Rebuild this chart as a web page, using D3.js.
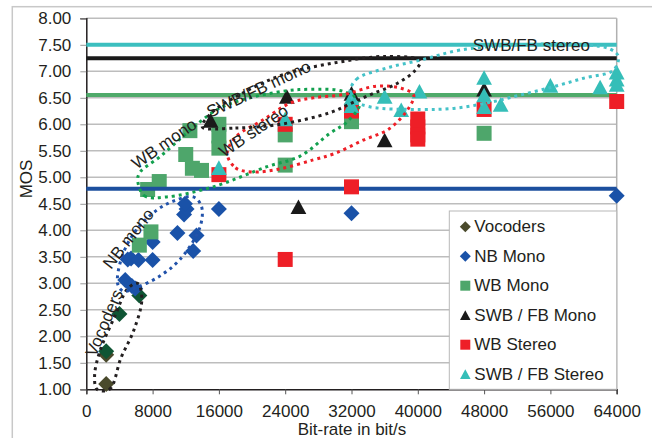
<!DOCTYPE html>
<html>
<head>
<meta charset="utf-8">
<script src="https://cdn.jsdelivr.net/npm/d3@7"></script>
<style>
  body { margin: 0; background: #fff; }
  text { font-family: "Liberation Sans", Arial, sans-serif; fill: #231f20; }
</style>
</head>
<body>
<script>
// data: [bit-rate, MOS]
const vocoders = [[2400, 1.10], [2400, 1.65], [2400, 1.72], [4000, 2.42], [6400, 2.77]];
const nbMono = [[4700, 3.06], [5500, 2.95], [5900, 2.90], [5000, 3.45], [5400, 3.47], [6300, 3.44],
    [8000, 3.44], [8000, 3.78], [11000, 3.95], [11800, 4.30], [12100, 4.40], [11900, 4.50],
    [13300, 3.90], [12900, 3.61], [16000, 4.40], [32000, 4.32], [64000, 4.65]];
const wbMono = [[6400, 3.72], [7800, 3.97], [7400, 4.77], [8800, 4.92], [12000, 5.43], [12800, 5.17],
    [13900, 5.13], [12500, 5.88], [16000, 6.00], [16000, 5.78], [16000, 5.55], [24000, 5.80],
    [24000, 5.23], [32000, 6.05], [48000, 5.83]];
const swbMono = [[15000, 6.07], [24200, 6.52], [25600, 4.44], [32000, 6.58], [36000, 5.70], [48000, 6.66]];
const wbStereo = [[16000, 5.05], [24000, 6.00], [24000, 3.45], [32000, 4.82], [32000, 6.25],
    [40000, 6.10], [40000, 5.95], [40000, 5.80], [40000, 5.72], [48000, 6.28], [64000, 6.43]];
const swbStereo = [[16000, 5.18], [24000, 6.10], [32000, 6.50], [32000, 6.35], [36000, 6.52],
    [38000, 6.27], [40200, 6.62], [48000, 6.88], [48000, 6.55], [48000, 6.33], [50000, 6.37],
    [56000, 6.73], [62000, 6.70], [64000, 6.98], [64000, 6.85], [64000, 6.75]];

// horizontal reference levels
const refLevels = [7.50, 7.245, 6.555, 4.785];

// dotted group outlines
const vocoderLoop = [[1300, 1.0], [2800, 1.0], [4200, 1.6], [5700, 2.1], [6700, 2.7], [6200, 3.0],
    [5000, 2.9], [3500, 2.4], [1600, 1.7], [1000, 1.25]];
const nbLoop = [[3800, 2.98], [4300, 3.5], [6000, 4.0], [8500, 4.38], [10500, 4.55], [12900, 4.63],
    [13900, 4.45], [13700, 4.05], [11300, 3.45], [8700, 3.12], [6000, 2.92], [4500, 2.85]];
const wbMonoLoop = [[6200, 4.95], [7000, 4.65], [9700, 4.63], [15300, 4.82], [21800, 5.2],
    [25800, 5.4], [29400, 5.83], [31500, 6.05], [33000, 6.4], [31000, 6.62], [27000, 6.66],
    [24000, 6.63], [19000, 6.47], [15700, 6.27], [12100, 5.83], [8900, 5.39], [6500, 5.1]];
const wbStereoLoop = [[17000, 5.45], [18000, 5.18], [20000, 5.1], [23400, 5.16], [27400, 5.33],
    [30000, 5.45], [33400, 5.7], [36600, 5.92], [39000, 6.33], [39500, 6.55], [38000, 6.68],
    [35000, 6.72], [31000, 6.56], [27400, 6.5], [24600, 6.4], [21300, 6.08], [18100, 5.77]];
const swbMonoLoop = [[14000, 5.95], [18000, 5.93], [23400, 6.0], [29400, 6.22], [32000, 6.4],
    [34600, 6.58], [37500, 6.77], [39700, 7.02], [40300, 7.2], [36000, 7.28], [30000, 7.16],
    [24000, 6.95], [19000, 6.6], [15000, 6.2]];
const swbStereoLoop = [[31800, 6.6], [32600, 6.85], [36200, 7.06], [40300, 7.21], [45100, 7.4],
    [52300, 7.5], [60000, 7.5], [63200, 7.42], [64200, 7.28], [63600, 7.02], [60000, 6.87],
    [56400, 6.71], [52300, 6.55], [48300, 6.4], [44300, 6.3], [40300, 6.28], [34200, 6.33], [32300, 6.45]];

const groupLabels = ['Vocoders', 'NB mono', 'WB mono', 'SWB/FB mono', 'WB stereo', 'SWB/FB stereo'];
const labelAt = [[2200, 2.25], [5100, 3.84], [9400, 5.63], [20800, 6.66], [20200, 5.87], [53700, 7.48]];
const labelAngle = [-67, -52, -35, -25, -34, 0];

const legendNames = ['Vocoders', 'NB Mono', 'WB Mono', 'SWB / FB Mono', 'WB Stereo', 'SWB / FB Stereo'];
const xTicks = [0, 8000, 16000, 24000, 32000, 40000, 48000, 56000, 64000];

const svgWidth = 652;
const svgHeight = 438;
const margin = { top: 18.3, left: 86.3, right: 35.3, bottom: 48.7 };
const width = svgWidth - margin.left - margin.right;
const height = svgHeight - margin.top - margin.bottom;

const svg = d3.select('body')
    .append('svg')
    .attr('width', svgWidth)
    .attr('height', svgHeight);

// outer chart frame
svg.append('rect')
    .attr('x', 12.3).attr('y', 6.7)
    .attr('width', 700).attr('height', 500)
    .attr('fill', 'none')
    .attr('stroke', '#c8c8c8')
    .attr('stroke-width', 1.5);

const g = svg.append('g')
    .attr('transform', `translate(${margin.left},${margin.top})`);

const x = d3.scaleLinear().domain([0, 64000]).range([0, width]);
const y = d3.scaleLinear().domain([1, 8]).range([height, 0]);

// grid
g.append('g')
    .selectAll('line')
    .data(d3.range(1.5, 8.01, 0.5))
    .enter()
    .append('line')
    .attr('x1', 0).attr('x2', width)
    .attr('y1', d => y(d)).attr('y2', d => y(d))
    .attr('stroke', '#bdbdbd')
    .attr('stroke-width', 1.5);

g.append('line')
    .attr('x1', width).attr('x2', width)
    .attr('y1', 0).attr('y2', height)
    .attr('stroke', '#b0b0b0')
    .attr('stroke-width', 1.5);

// axes
const yAxis = g.append('g')
    .call(d3.axisLeft(y).tickValues(d3.range(1, 8.01, 0.5)).tickFormat(d3.format('.2f')).tickSize(6).tickPadding(9));
const xAxis = g.append('g')
    .attr('transform', `translate(0,${height})`)
    .call(d3.axisBottom(x).tickValues(xTicks).tickFormat(d3.format('d')).tickSize(5).tickPadding(11));

[yAxis, xAxis].forEach(ax => {
    ax.select('.domain').attr('stroke', '#231f20').attr('stroke-width', 1.5);
    ax.selectAll('.tick line').attr('stroke', '#555').attr('stroke-width', 1);
    ax.selectAll('text').style('font-size', '17px').style('font-family', '"Liberation Sans", Arial, sans-serif').attr('fill', '#231f20');
});
yAxis.selectAll('.tick line').attr('stroke', '#999');

svg.append('text')
    .attr('transform', `translate(26,179) rotate(-90)`)
    .attr('text-anchor', 'middle')
    .attr('dominant-baseline', 'central')
    .style('font-size', '17px')
    .text('MOS');

svg.append('text')
    .attr('x', 352)
    .attr('y', 435)
    .attr('text-anchor', 'middle')
    .style('font-size', '17px')
    .text('Bit-rate in bit/s');

// marker shapes
const shapes = {
    diamond: s => `M0,${-s}L${s},0L0,${s}L${-s},0Z`,
    square: s => `M${-s},${-s}H${s}V${s}H${-s}Z`,
    triangle: s => `M0,${-s}L${s * 1.05},${s * 0.95}H${-s * 1.05}Z`
};

const refColors = ['#3cbfbf', '#1a1a1a', '#4faa6a', '#1c4f9e'];

function drawSeries(points, shape, size, color) {
    g.append('g')
        .selectAll('path')
        .data(points)
        .enter()
        .append('path')
        .attr('transform', d => `translate(${x(d[0])},${y(d[1])})`)
        .attr('d', shapes[shape](size))
        .attr('fill', (d, i) => typeof color === 'function' ? color(d, i) : color);
}

function drawRef(i) {
    g.append('line')
        .attr('x1', 0).attr('x2', width)
        .attr('y1', y(refLevels[i])).attr('y2', y(refLevels[i]))
        .attr('stroke', refColors[i])
        .attr('stroke-width', 4);
}

drawRef(0);
drawRef(1);
drawRef(2);
drawSeries(vocoders, 'diamond', 8, (d, i) => i < 2 ? '#4a4a2c' : '#0f5534');
drawSeries(nbMono, 'diamond', 8, '#1a52a8');
drawSeries(wbMono, 'square', 7.5, '#4ea66b');
drawRef(3);
drawSeries(swbMono, 'triangle', 7.5, '#1a1a1a');
drawSeries(wbStereo, 'square', 7.5, '#ee1f27');
drawSeries(swbStereo, 'triangle', 7.5, '#35beb8');

// dotted outlines
const loop = d3.line()
    .x(d => x(d[0]))
    .y(d => y(d[1]))
    .curve(d3.curveCatmullRomClosed.alpha(0.5));

const loops = [vocoderLoop, nbLoop, wbMonoLoop, wbStereoLoop, swbMonoLoop, swbStereoLoop];
const loopColors = ['#231f20', '#2152aa', '#12a04e', '#ee1f27', '#231f20', '#45c2c8'];

g.append('g')
    .selectAll('path')
    .data(loops)
    .enter()
    .append('path')
    .attr('d', d => loop(d))
    .attr('fill', 'none')
    .attr('stroke', (d, i) => loopColors[i])
    .attr('stroke-width', 3)
    .attr('stroke-dasharray', '3,4');

// group labels
g.append('g')
    .selectAll('text')
    .data(groupLabels)
    .enter()
    .append('text')
    .attr('transform', (d, i) => `translate(${x(labelAt[i][0])},${y(labelAt[i][1])}) rotate(${labelAngle[i]})`)
    .attr('text-anchor', 'middle')
    .attr('dominant-baseline', 'central')
    .style('font-size', '17px')
    .text(d => d);

// legend
const legendShapes = ['diamond', 'diamond', 'square', 'triangle', 'square', 'triangle'];
const legendColors = ['#4a4a2c', '#1a52a8', '#4ea66b', '#1a1a1a', '#ee1f27', '#35beb8'];

const legend = svg.append('g')
    .attr('transform', 'translate(449.3,211)');

legend.append('rect')
    .attr('width', 616.7 - 449.3)
    .attr('height', 389.3 - 211)
    .attr('fill', '#fff')
    .attr('stroke', '#b8b8b8')
    .attr('stroke-width', 1);

const item = legend.selectAll('.item')
    .data(legendNames)
    .enter()
    .append('g')
    .attr('class', 'item')
    .attr('transform', (d, i) => `translate(0,${15.7 + i * 29.5})`);

item.append('path')
    .attr('transform', 'translate(16,0)')
    .attr('d', (d, i) => shapes[legendShapes[i]](legendShapes[i] === 'diamond' ? 5.5 : 5))
    .attr('fill', (d, i) => legendColors[i]);

item.append('text')
    .attr('x', 25)
    .attr('dominant-baseline', 'central')
    .style('font-size', '17px')
    .text(d => d);
</script>
</body>
</html>
